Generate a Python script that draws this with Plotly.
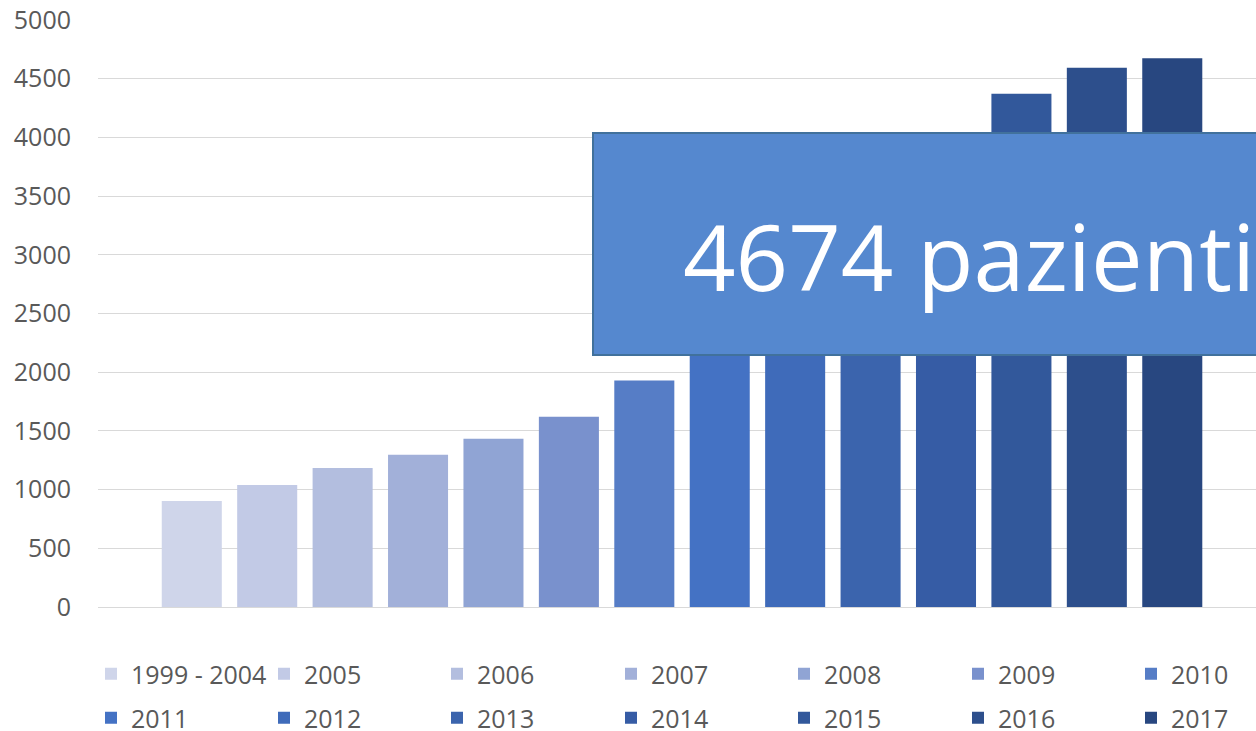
import plotly.graph_objects as go

years = ["1999 - 2004", "2005", "2006", "2007", "2008", "2009", "2010",
         "2011", "2012", "2013", "2014", "2015", "2016", "2017"]
patients = [903, 1040, 1185, 1296, 1433, 1621, 1929,
            2300, 2750, 3250, 3850, 4371, 4594, 4674]
colors = ["#CFD5EA", "#C2CAE6", "#B3BEDF", "#A2B0D9", "#90A4D4", "#7991CD", "#567DC6",
          "#4472C4", "#3F6BBA", "#3B64AD", "#365CA5", "#32589B", "#2D4F8C", "#284780"]
y_ticks = [0, 500, 1000, 1500, 2000, 2500, 3000, 3500, 4000, 4500, 5000]
box_text = "4674 pazienti"

FONT = "Open Sans"
GREY = "#595959"

W, H = 1256, 731
L, R, T, B = 98, 0, 20, 124

# legend layout: 7 columns x 2 rows (pixel position of each entry's text start / row centre)
col_text_x = [132, 305, 478, 652, 825, 999, 1172]
row_y = [674, 718]

fig = go.Figure()
legends = {}
for i, (yr, v, c) in enumerate(zip(years, patients, colors)):
    key = "legend" if i == 0 else f"legend{i + 1}"
    fig.add_trace(go.Bar(
        x=[""], y=[v], name=yr, marker=dict(color=c, line=dict(width=0)),
        legend=key, hoverinfo="skip",
    ))
    col, row = i % 7, i // 7
    legends[key] = dict(orientation="h", xanchor="left", yanchor="middle",
                        xref="container", yref="container",
                        x=(col_text_x[col] - 41) / W, y=1 - row_y[row] / H,
                        itemwidth=30,
                        font=dict(family=FONT, size=25, color=GREY),
                        bgcolor="rgba(0,0,0,0)")

fig.update_layout(
    width=W, height=H, autosize=False,
    margin=dict(l=L, r=R, t=T, b=B, pad=0),
    paper_bgcolor="white", plot_bgcolor="white",
    barmode="group", bargap=0.096, bargroupgap=0.204,
    font=dict(family=FONT, size=25, color=GREY),
    xaxis=dict(showticklabels=False, showgrid=False, zeroline=False, showline=False,
               range=[-0.5, 0.4914], fixedrange=True),
    yaxis=dict(range=[0, 5000], tickvals=y_ticks, showgrid=True, gridcolor="#D9D9D9",
               gridwidth=1, zeroline=True, zerolinecolor="#D9D9D9", zerolinewidth=1,
               showline=False, ticks="", ticklabelstandoff=26, automargin=False,
               tickfont=dict(family=FONT, size=25, color=GREY)),
    showlegend=True,
    **legends,
)

# overlay box
pw = W - L - R
ph = H - T - B
def px(x):
    return (x - L) / pw
def py(y):
    return (H - B - y) / ph

fig.add_shape(type="rect", xref="paper", yref="paper",
              x0=px(593), x1=px(1275), y0=py(355), y1=py(133),
              fillcolor="#5588CF", line=dict(color="#41719C", width=2), layer="above")
fig.add_annotation(xref="paper", yref="paper", x=px(681), y=py(255),
                   xanchor="left", yanchor="middle", text=box_text, showarrow=False,
                   font=dict(family=FONT, size=92, color="white"))

fig.write_html("out.html", config={"displayModeBar": False},
               post_script="document.body.style.margin='0';document.body.style.overflow='hidden';")
